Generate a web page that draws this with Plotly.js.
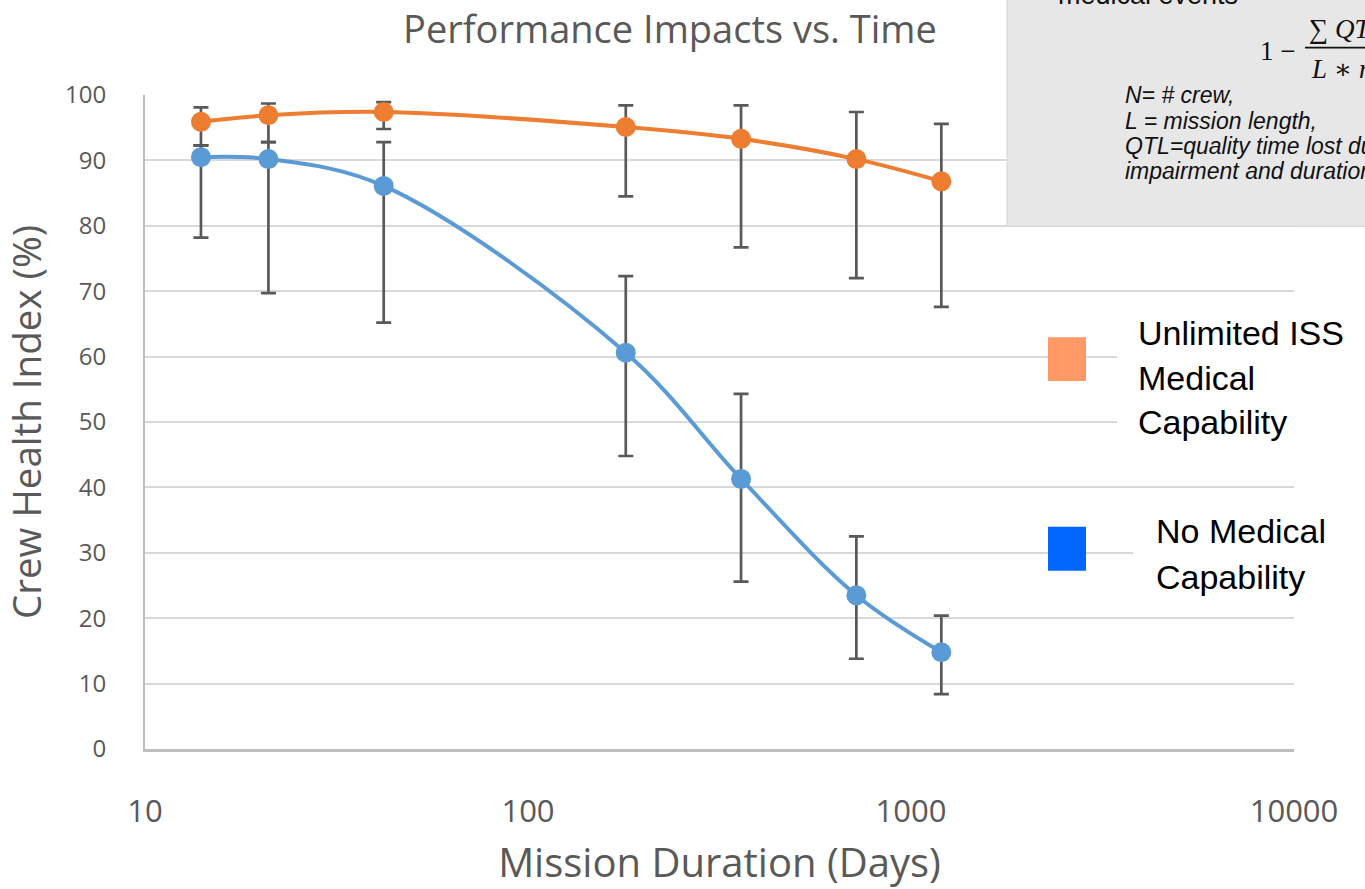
<!DOCTYPE html>
<html>
<head>
<meta charset="utf-8">
<script src="https://cdn.plot.ly/plotly-3.0.1.min.js"></script>
<style>html,body{margin:0;padding:0;background:#fff;}#chart{width:1365px;height:889px;}</style>
</head>
<body>
<div id="chart"></div>
<script>
// Mission durations (days)
const days = [14, 21, 42, 180, 360, 720, 1200];
// Unlimited ISS Medical Capability
const unlimited     = [95.9, 96.9, 97.4, 95.1, 93.3, 90.2, 86.8];
const unlimitedHigh = [98.1, 98.7, 98.9, 98.4, 98.4, 97.4, 95.6];
const unlimitedLow  = [92.3, 92.8, 94.8, 84.5, 76.7, 72.0, 67.6];
// No Medical Capability
const noMed     = [90.5, 90.2, 86.1, 60.6, 41.3, 23.5, 14.8];
const noMedHigh = [92.3, 92.8, 92.8, 72.3, 54.3, 32.5, 20.4];
const noMedLow  = [78.2, 69.7, 65.2, 44.8, 25.6, 13.8, 8.4];
// Axis ticks
const xTickVals = [10, 100, 1000, 10000];
const xTickText = ['10', '100', '1000', '10000'];
const yTickVals = [0, 10, 20, 30, 40, 50, 60, 70, 80, 90, 100];

const seriesNames = ['Unlimited ISS Medical Capability', 'No Medical Capability'];

const W = 1365, H = 889;
const L = 145, R = 1294, T = 94.5, B = 749.5;
// pixel -> paper coordinate helpers
const toPX = x => (x - L) / (R - L);
const toPY = y => (B - y) / (B - T);

const errCol = '#595959';
function mkTrace(name, y, hi, lo, color) {
  return {
    type: 'scatter', mode: 'lines+markers', name: name,
    x: days, y: y,
    line: {color: color, width: 4, shape: 'spline', smoothing: 1},
    marker: {color: color, size: 20},
    error_y: {
      type: 'data', symmetric: false,
      array: hi.map((v, i) => v - y[i]),
      arrayminus: lo.map((v, i) => y[i] - v),
      color: errCol, thickness: 2.7, width: 7.5
    },
    showlegend: false, hoverinfo: 'x+y'
  };
}

const traces = [
  mkTrace(seriesNames[1], noMed, noMedHigh, noMedLow, '#5B9BD5'),
  mkTrace(seriesNames[0], unlimited, unlimitedHigh, unlimitedLow, '#ED7D31')
];

const axisFont = {family: 'Open Sans, sans-serif', color: '#595959'};
const legFont = {family: 'Liberation Sans, Arial, sans-serif', size: 34, color: '#000000'};
const boxFont = {family: 'Liberation Sans, Arial, sans-serif', size: 23, color: '#111111'};
const mathFont = {family: 'Liberation Serif, DejaVu Serif, serif', size: 27, color: '#111111'};

function ann(text, xPix, yPix, font, xanchor, extra) {
  return Object.assign({
    text: text, xref: 'paper', yref: 'paper',
    x: toPX(xPix), y: toPY(yPix), xanchor: xanchor || 'left', yanchor: 'middle',
    showarrow: false, font: font
  }, extra || {});
}

const annotations = [
  // legend text
  ann('Unlimited ISS', 1136, 333, legFont),
  ann('Medical', 1136, 378, legFont),
  ann('Capability', 1136, 422, legFont),
  ann('No Medical', 1154, 531, legFont),
  ann('Capability', 1154, 577, legFont),
  // gray note box
  ann('medical events', 1056, -6, {family: boxFont.family, size: 27, color: '#111111'}),
  ann('1 \u2212', 1258, 50, mathFont),
  ann('\u2211 <i>QT</i>', 1307, 28, mathFont),
  ann('<i>L</i> \u2217 <i>n</i>', 1309, 68, mathFont),
  ann('<i>N= # crew,</i>', 1123, 95, boxFont),
  ann('<i>L = mission length,</i>', 1123, 121, boxFont),
  ann('<i>QTL=quality time lost due to</i>', 1123, 146, boxFont),
  ann('<i>impairment and duration</i>', 1123, 171, boxFont)
];

const shapes = [
  // white boxes behind legend text (cover gridlines)
  {type: 'rect', xref: 'paper', yref: 'paper', layer: 'above',
   x0: toPX(1117), x1: toPX(1370), y0: toPY(450), y1: toPY(305),
   fillcolor: '#ffffff', line: {width: 0}},
  {type: 'rect', xref: 'paper', yref: 'paper', layer: 'above',
   x0: toPX(1133), x1: toPX(1370), y0: toPY(603), y1: toPY(505),
   fillcolor: '#ffffff', line: {width: 0}},
  // legend squares
  {type: 'rect', xref: 'paper', yref: 'paper', layer: 'above',
   x0: toPX(1048), x1: toPX(1086), y0: toPY(381), y1: toPY(337),
   fillcolor: '#FF9966', line: {width: 0}},
  {type: 'rect', xref: 'paper', yref: 'paper', layer: 'above',
   x0: toPX(1048), x1: toPX(1086), y0: toPY(571), y1: toPY(527),
   fillcolor: '#0066FF', line: {width: 0}},
  // gray note box
  {type: 'rect', xref: 'paper', yref: 'paper', layer: 'above',
   x0: toPX(1007), x1: toPX(1370), y0: toPY(226), y1: toPY(-10),
   fillcolor: '#E7E7E7', line: {color: '#D6D6D6', width: 1}},
  // fraction bar
  {type: 'line', xref: 'paper', yref: 'paper', layer: 'above',
   x0: toPX(1305), x1: toPX(1370), y0: toPY(47), y1: toPY(47),
   line: {color: '#111111', width: 1.8}}
];

const layout = {
  width: W, height: H,
  margin: {l: L, r: W - R, t: T, b: H - B, pad: 0},
  paper_bgcolor: '#ffffff', plot_bgcolor: '#ffffff',
  title: {
    text: 'Performance Impacts vs. Time',
    font: Object.assign({size: 38}, axisFont),
    xref: 'container', yref: 'container',
    x: 670 / W, y: 1 - 30 / H, xanchor: 'center', yanchor: 'middle'
  },
  xaxis: {
    type: 'log', range: [1, 4],
    tickmode: 'array', tickvals: xTickVals, ticktext: xTickText,
    tickfont: Object.assign({size: 31}, axisFont),
    showgrid: false, zeroline: false,
    showline: true, linecolor: '#BFBFBF', linewidth: 2.5,
    ticks: '', ticklabelstandoff: 33,
    title: {text: 'Mission Duration (Days)', font: Object.assign({size: 40}, axisFont), standoff: 20}
  },
  yaxis: {
    range: [0, 100], tickmode: 'array', tickvals: yTickVals,
    tickfont: Object.assign({size: 24}, axisFont),
    showgrid: true, gridcolor: '#D9D9D9', gridwidth: 2,
    zeroline: false, showline: true, linecolor: '#BFBFBF', linewidth: 2,
    ticks: '', ticklabelstandoff: 32,
    title: {text: 'Crew Health Index (%)', font: Object.assign({size: 38.5}, axisFont), standoff: 14}
  },
  shapes: shapes,
  annotations: annotations,
  showlegend: false
};

Plotly.newPlot('chart', traces, layout, {displayModeBar: false, staticPlot: true});
</script>
</body>
</html>
